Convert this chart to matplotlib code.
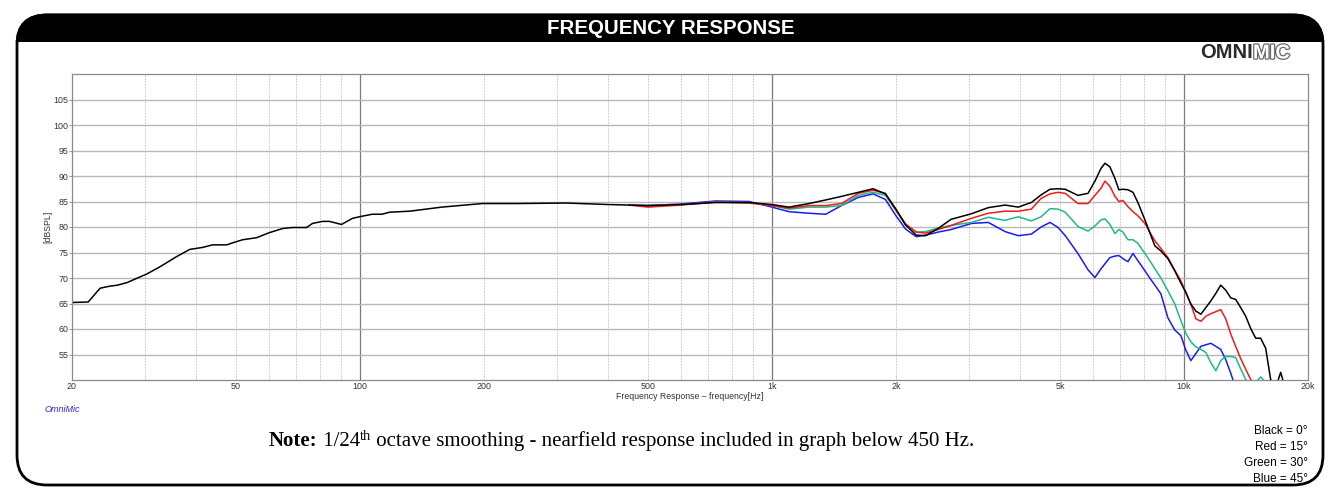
import matplotlib.pyplot as plt
import matplotlib.patheffects as pe
from matplotlib.patches import FancyBboxPatch, Rectangle
from matplotlib.ticker import FixedLocator, FixedFormatter, NullFormatter
import numpy as np

plt.rcParams['font.family'] = ['Liberation Sans', 'DejaVu Sans']

nan = float('nan')

# on-axis response below 450 Hz (nearfield merged), black only
freq_low = [20, 21.9, 23.4, 24.7, 25.8, 27.2, 28.1, 30.4, 32.7, 35.9, 38.6, 41.5, 43.9,
            47.5, 49.1, 51.9, 56.1, 60.3, 64.9, 68.6, 74.2, 76.7, 81.1, 84.3, 90.2, 95.9,
            101, 107, 113, 118, 132, 158, 198, 239, 316, 402]
spl_low = [65.2, 65.3, 68.0, 68.4, 68.6, 69.1, 69.6, 70.8, 72.2, 74.2, 75.6, 76.0, 76.5,
           76.5, 76.9, 77.5, 77.9, 78.9, 79.7, 79.9, 79.9, 80.7, 81.1, 81.1, 80.5, 81.7,
           82.1, 82.5, 82.5, 82.9, 83.1, 83.9, 84.6, 84.6, 84.7, 84.4]

# off-axis set, 450 Hz - 18 kHz
freq_hi = [450, 500, 600, 730, 880, 1000, 1100, 1230, 1350, 1475, 1620, 1760, 1885, 2000,
           2110, 2240, 2360, 2530, 2720, 3050, 3350, 3680, 3960, 4260, 4500, 4730, 4950,
           5150, 5530, 5850, 6080, 6290, 6430, 6610, 6800, 6950, 7110, 7310, 7520, 7730,
           8040, 8260, 8500, 8790, 9140, 9500, 9830, 10100, 10390, 10690, 10990, 11300,
           11620, 11950, 12280, 12630, 12990, 13350, 13730, 14120, 14520, 14930, 15350,
           15790, 16230, 16690, 17170, 17650]
spl_0 = [84.3, 84.2, 84.4, 84.8, 84.8, 84.4, 83.9, 84.6, 85.3, 86.0, 86.8, 87.5, 86.5, 83.5,
         80.4, 78.4, 78.3, 79.7, 81.5, 82.6, 83.8, 84.3, 83.9, 84.8, 86.3, 87.4, 87.5,
         87.4, 86.2, 86.6, 89.0, 91.5, 92.5, 91.8, 89.5, 87.3, 87.4, 87.3, 86.8, 84.8,
         81.4, 78.9, 76.3, 75.3, 73.8, 71.4, 69.0, 67.2, 64.9, 63.5, 62.9, 64.2,
         65.5, 67.0, 68.6, 67.6, 66.1, 65.8, 64.2, 62.5, 60.1, 58.2, 58.2,
         56.2, 50.1, 48.5, 51.5, 48.0]
spl_15 = [84.3, 83.9, 84.3, 84.9, 84.7, 84.2, 83.7, 84.2, 84.2, 84.6, 86.6, 87.2, 86.6, 83.3,
          80.6, 79.0, 78.8, 79.5, 80.3, 81.7, 82.7, 83.1, 83.1, 83.5, 85.6, 86.5, 86.8,
          86.6, 84.6, 84.6, 86.2, 87.6, 89.0, 88.0, 86.0, 85.0, 85.2, 84.0, 83.0, 82.2,
          80.7, 79.0, 77.3, 75.8, 74.0, 71.5, 69.4, 67.2, 64.9, 62.0, 61.5, 62.5,
          63.0, 63.4, 63.8, 62.0, 59.0, 56.6, 54.2, 52.1, 50.1, 48.0, nan,
          nan, nan, nan, nan, nan]
spl_30 = [84.3, 84.2, 84.4, 84.9, 84.8, 84.2, 83.5, 83.9, 83.9, 84.2, 86.2, 86.8, 86.2, 83.2,
          80.4, 79.0, 79.1, 79.8, 80.3, 80.9, 81.9, 81.3, 82.0, 81.2, 82.0, 83.6, 83.5,
          82.9, 80.1, 79.2, 80.2, 81.4, 81.6, 80.5, 78.7, 79.5, 79.0, 77.5, 77.5, 76.8,
          74.8, 73.4, 71.8, 70.0, 67.5, 64.9, 61.6, 59.2, 57.5, 56.5, 56.0, 55.4,
          53.4, 51.8, 53.8, 54.6, 54.6, 54.4, 52.2, 50.1, 49.2, 49.5, 50.6,
          49.5, 48.0, nan, nan, nan]
spl_45 = [84.3, 84.2, 84.5, 85.1, 85.0, 83.9, 83.0, 82.7, 82.5, 84.2, 85.8, 86.5, 85.4, 82.2,
          79.6, 78.1, 78.4, 79.0, 79.5, 80.7, 80.9, 79.1, 78.3, 78.6, 80.0, 80.9, 79.9,
          78.3, 74.8, 71.6, 70.1, 71.8, 72.8, 74.0, 74.3, 74.4, 73.8, 73.2, 74.8, 73.4,
          71.4, 70.0, 68.6, 66.9, 62.2, 59.8, 58.7, 55.9, 53.8, 55.2, 56.6, 56.9,
          57.2, 56.6, 56.0, 54.0, 51.3, 48.5, nan, nan, nan, nan, nan,
          nan, nan, nan, nan, nan]

legend_lines = ['Black = 0°', 'Red = 15°', 'Green = 30°', 'Blue = 45°']
xtick_vals = [20, 50, 100, 200, 500, 1000, 2000, 5000, 10000, 20000]
xtick_text = ['20', '50', '100', '200', '500', '1k', '2k', '5k', '10k', '20k']
ytick_vals = [55, 60, 65, 70, 75, 80, 85, 90, 95, 100, 105]

W, H = 1331, 493
fig = plt.figure(figsize=(W / 100, H / 100), dpi=100)

# background frame in pixel coordinates
bg = fig.add_axes([0, 0, 1, 1])
bg.set_xlim(0, W)
bg.set_ylim(H, 0)
bg.axis('off')
frame = FancyBboxPatch((17, 15), 1306, 470, boxstyle='round,pad=0,rounding_size=30',
                       fc='white', ec='black', lw=2)
bg.add_patch(frame)
bar = FancyBboxPatch((17, 15), 1306, 470, boxstyle='round,pad=0,rounding_size=30',
                     fc='black', ec='black', lw=2)
bg.add_patch(bar)
bar.set_clip_path(Rectangle((0, 0), W, 42, transform=bg.transData))
bg.text(671, 29, 'FREQUENCY RESPONSE', color='white', fontsize=14.8, fontweight='bold',
        ha='center', va='center')
bg.text(1253, 53, 'OMNI', color='#2a2a2a', fontsize=14.5, fontweight='bold',
        ha='right', va='center')
bg.text(1253, 53, 'MIC', color='white', fontsize=14.5, fontweight='bold', ha='left', va='center',
        path_effects=[pe.withStroke(linewidth=1.8, foreground='#6a6a6a')])
bg.text(45, 409, 'OmniMic', color='#2a2ad0', fontsize=6.5, style='italic', va='center')

# note line, drawn piece by piece
r = fig.canvas.get_renderer()
x0 = 269
pieces = [('Note:', 'bold', 15, 0), (' 1/24', 'normal', 15, 0), ('th', 'normal', 10.5, -6),
          (' octave smoothing - nearfield response included in graph below 450 Hz.', 'normal', 15, 0)]
for s, wt, fs, dy in pieces:
    t = bg.text(x0, 446 + dy, s, family='Liberation Serif', fontweight=wt, fontsize=fs,
                ha='left', va='baseline')
    bb = t.get_window_extent(renderer=r)
    x0 += bb.width

for i, s in enumerate(legend_lines):
    bg.text(1308, 431 + 16 * i, s, fontsize=8.5, ha='right', va='center')

# main graph
ax = fig.add_axes([72 / W, 1 - 380 / H, (1308 - 72) / W, (380 - 74) / H])
ax.set_xscale('log')
ax.set_xlim(20, 20000)
ax.set_ylim(50, 110)

minor = [m * d for d in (10, 100, 1000, 10000) for m in range(2, 10)
         if 20 < m * d < 20000 and m * d not in (100, 1000, 10000)]
for f in minor:
    ax.axvline(f, color='#cfcfcf', lw=0.7, ls=(0, (2, 1)), zorder=0)
for f in (100, 1000, 10000):
    ax.axvline(f, color='#7a7a7a', lw=0.9, zorder=0)
for v in ytick_vals:
    ax.axhline(v, color='#b8b8b8', lw=1.0, zorder=0)

ax.plot(freq_hi, spl_45, color='#1c1cf0', lw=1.1)
ax.plot(freq_hi, spl_30, color='#1fb88a', lw=1.1)
ax.plot(freq_hi, spl_15, color='#ee1c1c', lw=1.1)
ax.plot(freq_low + freq_hi, spl_low + spl_0, color='black', lw=1.1)

ax.xaxis.set_major_locator(FixedLocator(xtick_vals))
ax.xaxis.set_major_formatter(FixedFormatter(xtick_text))
ax.xaxis.set_minor_formatter(NullFormatter())
ax.set_yticks(ytick_vals)
ax.tick_params(axis='x', which='both', length=0, pad=1.5, labelsize=6.4, labelcolor='#333333')
ax.tick_params(axis='y', length=2, color='#9a9a9a', pad=0.5, labelsize=6.4, labelcolor='#333333')
ax.set_xlabel('Frequency Response \u2013 frequency[Hz]', fontsize=6.3, color='#333333', labelpad=0.5)
ax.set_ylabel('[dBSPL]', fontsize=6.3, color='#333333', labelpad=1)
for sp in ax.spines.values():
    sp.set_color('#8a8a8a')
    sp.set_linewidth(0.9)

fig.savefig('out.png', dpi=100)
